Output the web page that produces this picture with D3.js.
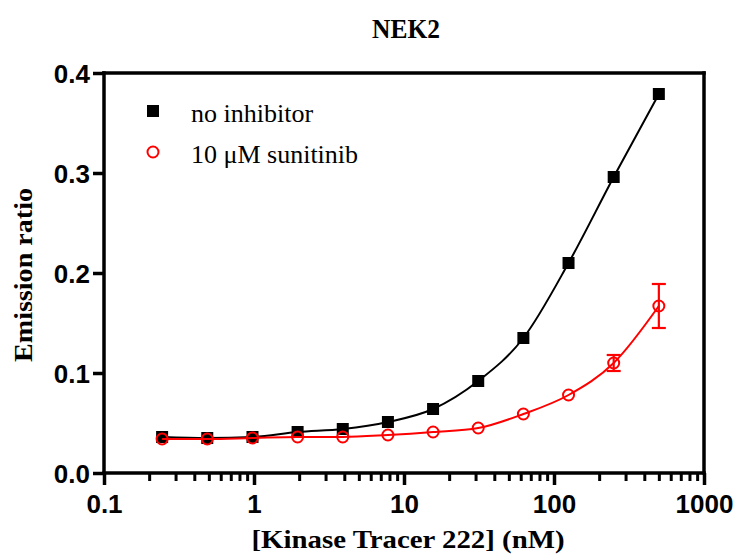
<!DOCTYPE html>
<html>
<head>
<meta charset="utf-8">
<script src="https://cdn.jsdelivr.net/npm/d3@7"></script>
<style>
  html, body { margin: 0; padding: 0; background: #fff; }
  svg { display: block; }
</style>
</head>
<body>
<svg id="chart" width="738" height="556"></svg>
<script>
// ---- data ----
const concentrations = [0.244, 0.488, 0.977, 1.953, 3.906, 7.8125, 15.625, 31.25, 62.5, 125, 250, 500];
const noInhibitor   = [0.036, 0.035, 0.036, 0.041, 0.044, 0.051, 0.064, 0.092, 0.135, 0.210, 0.296, 0.379];
const sunitinib     = [0.034, 0.034, 0.035, 0.036, 0.036, 0.038, 0.041, 0.045, 0.059, 0.078, 0.110, 0.167];
const sunitinibErr  = [0, 0, 0, 0, 0, 0, 0, 0, 0, 0, 0.008, 0.022];
const xMajorTicks = [0.1, 1, 10, 100, 1000];
const xTickLabels = ["0.1", "1", "10", "100", "1000"];
const yTicks = [0, 0.1, 0.2, 0.3, 0.4];
const yTickLabels = ["0.0", "0.1", "0.2", "0.3", "0.4"];
const seriesNames = ["no inhibitor", "10 \u03bcM sunitinib"];
const titleText = "NEK2";
const xTitle = "[Kinase Tracer 222] (nM)";
const yTitle = "Emission ratio";

// ---- layout ----
const svg = d3.select("#chart");
const L = 104, R = 704, T = 73, B = 473;
const x = d3.scaleLog().domain([0.1, 1000]).range([L, R]);
const y = d3.scaleLinear().domain([0, 0.4]).range([B, T]);

const minorTicks = [];
for (let d = 0.1; d < 1000; d *= 10) {
  for (let k = 2; k <= 9; k++) minorTicks.push(+(d * k).toPrecision(3));
}

const axisW = 3.5;
const tickFont = "'Liberation Sans', Arial, sans-serif";
const serif = "'Liberation Serif', 'Times New Roman', serif";

// minor x ticks
const gxMinor = svg.append("g").attr("transform", `translate(0,${B})`)
  .call(d3.axisBottom(x).tickValues(minorTicks).tickSize(8).tickFormat(""));
gxMinor.select(".domain").remove();
gxMinor.selectAll("line").attr("stroke", "#000").attr("stroke-width", 3);

// major x ticks
const gx = svg.append("g").attr("transform", `translate(0,${B})`)
  .call(d3.axisBottom(x).tickValues(xMajorTicks).tickSize(12).tickPadding(10)
    .tickFormat((d, i) => xTickLabels[i]));
gx.select(".domain").remove();
gx.selectAll("line").attr("stroke", "#000").attr("stroke-width", axisW);
gx.selectAll("text").attr("font-family", tickFont).attr("font-weight", "bold")
  .attr("font-size", 26).attr("fill", "#000");

// y ticks
const gy = svg.append("g").attr("transform", `translate(${L},0)`)
  .call(d3.axisLeft(y).tickValues(yTicks).tickSize(11).tickPadding(3)
    .tickFormat((d, i) => yTickLabels[i]));
gy.select(".domain").remove();
gy.selectAll("line").attr("stroke", "#000").attr("stroke-width", axisW);
gy.selectAll("text").attr("font-family", tickFont).attr("font-weight", "bold")
  .attr("font-size", 26).attr("fill", "#000").attr("dy", "0.36em");

// frame
const frame = svg.append("g").attr("stroke", "#000").attr("stroke-width", axisW)
  .attr("stroke-linecap", "square").attr("fill", "none");
frame.append("line").attr("x1", x(0.1)).attr("x2", x(1000)).attr("y1", y(0)).attr("y2", y(0));
frame.append("line").attr("x1", x(0.1)).attr("x2", x(0.1)).attr("y1", y(0)).attr("y2", y(0.4));
frame.append("line").attr("x1", x(0.1)).attr("x2", x(1000)).attr("y1", y(0.4)).attr("y2", y(0.4));
frame.append("line").attr("x1", x(1000)).attr("x2", x(1000)).attr("y1", y(0)).attr("y2", y(0.4));

// curves
const line = d3.line().x(d => x(d[0])).y(d => y(d[1])).curve(d3.curveMonotoneX);
const blackData = concentrations.map((c, i) => [c, noInhibitor[i]]);
const redData = concentrations.map((c, i) => [c, sunitinib[i]]);

svg.append("path").datum(blackData).attr("d", line)
  .attr("fill", "none").attr("stroke", "#000").attr("stroke-width", 2);

// black squares
const sq = 12;
svg.append("g").selectAll("rect").data(blackData).join("rect")
  .attr("x", d => x(d[0]) - sq / 2).attr("y", d => y(d[1]) - sq / 2)
  .attr("width", sq).attr("height", sq).attr("fill", "#000");

svg.append("path").datum(redData).attr("d", line)
  .attr("fill", "none").attr("stroke", "#ff0000").attr("stroke-width", 2);

// error bars
const eb = svg.append("g").attr("stroke", "#ff0000").attr("stroke-width", 2.2);
concentrations.forEach((c, i) => {
  const e = sunitinibErr[i];
  if (!e) return;
  const cx = x(c), y1 = y(sunitinib[i] + e), y2 = y(sunitinib[i] - e);
  eb.append("line").attr("x1", cx).attr("x2", cx).attr("y1", y1).attr("y2", y2);
  eb.append("line").attr("x1", cx - 7).attr("x2", cx + 7).attr("y1", y1).attr("y2", y1);
  eb.append("line").attr("x1", cx - 7).attr("x2", cx + 7).attr("y1", y2).attr("y2", y2);
});

// red circles
svg.append("g").selectAll("circle").data(redData).join("circle")
  .attr("cx", d => x(d[0])).attr("cy", d => y(d[1])).attr("r", 5.5)
  .attr("fill", "none").attr("stroke", "#ff0000").attr("stroke-width", 2);

// legend
const lg = svg.append("g");
lg.append("rect").attr("x", 153 - sq / 2).attr("y", 111 - sq / 2)
  .attr("width", sq).attr("height", sq).attr("fill", "#000");
lg.append("circle").attr("cx", 153).attr("cy", 152).attr("r", 5.5)
  .attr("fill", "none").attr("stroke", "#ff0000").attr("stroke-width", 2);
lg.append("text").attr("x", 191).attr("y", 122).text(seriesNames[0])
  .attr("font-family", serif).attr("font-size", 26).attr("fill", "#000");
lg.append("text").attr("x", 191).attr("y", 163).text(seriesNames[1])
  .attr("font-family", serif).attr("font-size", 26).attr("fill", "#000");

// titles
svg.append("text").attr("x", (L + R) / 2 + 2).attr("y", 38).attr("text-anchor", "middle")
  .attr("font-family", serif).attr("font-weight", "bold").attr("font-size", 28)
  .attr("textLength", 68).attr("lengthAdjust", "spacingAndGlyphs")
  .text(titleText);

svg.append("text").attr("x", 408).attr("y", 548).attr("text-anchor", "middle")
  .attr("font-family", serif).attr("font-weight", "bold").attr("font-size", 25)
  .attr("textLength", 313).attr("lengthAdjust", "spacingAndGlyphs")
  .text(xTitle);

svg.append("text").attr("transform", "translate(32,275) rotate(-90)")
  .attr("text-anchor", "middle")
  .attr("font-family", serif).attr("font-weight", "bold").attr("font-size", 26)
  .attr("textLength", 174).attr("lengthAdjust", "spacingAndGlyphs")
  .text(yTitle);
</script>
</body>
</html>
